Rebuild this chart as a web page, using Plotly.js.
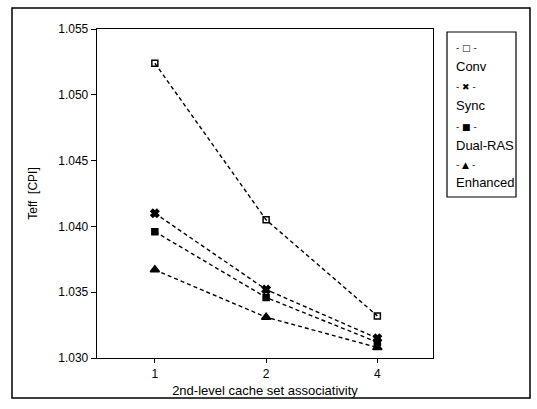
<!DOCTYPE html>
<html><head><meta charset="utf-8">
<script src="https://cdn.plot.ly/plotly-3.0.1.min.js"></script>
<style>html,body{margin:0;padding:0;background:#fff;}#chart{width:537px;height:409px;}</style>
</head><body><div id="chart"></div>
<script>
const categories = ['1', '2', '4'];
const seriesNames = ['Conv', 'Sync', 'Dual-RAS', 'Enhanced'];
const conv = [1.0524, 1.0405, 1.0332];
const sync = [1.0410, 1.0352, 1.0315];
const dualRAS = [1.0396, 1.0346, 1.0312];
const enhanced = [1.0367, 1.0331, 1.0308];
const yTicks = [1.030, 1.035, 1.040, 1.045, 1.050, 1.055];
const legendSymbols = ['- \u25A1 -', '- \u2716 -', '- \u25A0 -', '- \u25B2 -'];

const values = [conv, sync, dualRAS, enhanced];
const symbols = ['square-open', 'x', 'square', 'triangle-up'];
const sizes = [6, 7, 6, 8];
const font = 'Liberation Sans, Arial, sans-serif';

const traces = values.map((v, i) => ({
  x: categories, y: v, type: 'scatter', mode: 'lines+markers', name: seriesNames[i],
  line: {color: '#000', width: 1.4, dash: '4px,3px'},
  marker: {symbol: symbols[i], size: sizes[i], color: '#000', line: {color: '#000', width: 1.5}},
  showlegend: false
}));

// paper coords helpers (plot area: x 97..433, y 29..358)
const L = 97, R = 433, T = 29, B = 358;
const px = x => (x - L) / (R - L);
const py = y => (B - y) / (B - T);

const annotations = [];
const symY = [48, 87, 127, 165];
const labY = [67, 105, 145, 182];
seriesNames.forEach((n, i) => {
  annotations.push({xref: 'paper', yref: 'paper', x: px(454), y: py(symY[i]), xanchor: 'left', yanchor: 'middle',
    text: legendSymbols[i], showarrow: false, font: {family: 'DejaVu Sans', size: 9, color: '#000'}});
  annotations.push({xref: 'paper', yref: 'paper', x: px(454), y: py(labY[i]), xanchor: 'left', yanchor: 'middle',
    text: n, showarrow: false, font: {family: font, size: 13, color: '#000'}});
});

const layout = {
  width: 537, height: 409,
  margin: {l: L, r: 537 - R, t: T, b: 409 - B},
  paper_bgcolor: '#fff', plot_bgcolor: '#fff',
  font: {family: font, size: 12, color: '#000'},
  xaxis: {
    type: 'category', range: [-0.52, 2.5], showline: true, mirror: true, linecolor: '#000', linewidth: 1.3,
    ticks: 'outside', ticklen: 4, tickcolor: '#000', showgrid: false, zeroline: false,
    tickfont: {family: font, size: 12},
    title: {text: '2nd-level cache set associativity', font: {family: font, size: 13}, standoff: 6}
  },
  yaxis: {
    range: [1.030, 1.055], tickvals: yTicks, ticktext: yTicks.map(v => v.toFixed(3)),
    showline: true, mirror: true, linecolor: '#000', linewidth: 1.3,
    ticks: 'outside', ticklen: 5, tickcolor: '#000', showgrid: false, zeroline: false,
    tickfont: {family: font, size: 12},
    title: {text: 'Teff  [CPI]', font: {family: font, size: 12}, standoff: 18}
  },
  shapes: [
    {type: 'rect', xref: 'paper', yref: 'paper', x0: px(12), x1: px(530), y0: py(398), y1: py(8),
      line: {color: '#000', width: 1.5}, fillcolor: 'rgba(0,0,0,0)'},
    {type: 'rect', xref: 'paper', yref: 'paper', x0: px(447), x1: px(516), y0: py(197), y1: py(32),
      line: {color: '#000', width: 1.2}, fillcolor: 'rgba(0,0,0,0)'}
  ],
  annotations: annotations
};

Plotly.newPlot('chart', traces, layout, {displayModeBar: false, staticPlot: true});
</script></body></html>
